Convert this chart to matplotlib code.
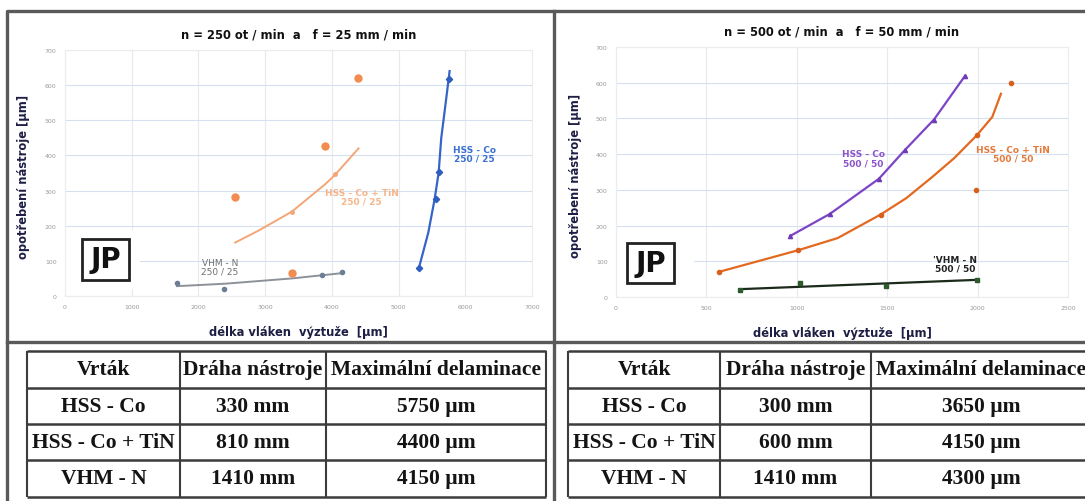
import matplotlib
matplotlib.use("Agg")
from matplotlib import pyplot as plt
from matplotlib.patches import Rectangle

# --- chart data ---
titles = ["n = 250 ot / min  a   f = 25 mm / min", "n = 500 ot / min  a   f = 50 mm / min"]
x_label = "délka vláken  výztuže  [µm]"
y_label = "opotřebení nástroje [µm]"

# left: 250 / 25
l_co_x = [5305, 5565, 5602, 5758]
l_co_y = [81, 275, 353, 617]
l_co_fit_x = [5305, 5445, 5540, 5600, 5640, 5700, 5765]
l_co_fit_y = [80, 180, 275, 350, 450, 540, 640]

l_tin_x = [2548, 3403, 3898, 4393]
l_tin_y = [282, 66, 427, 620]
l_tin_fit_x = [2550, 2900, 3400, 3900, 4054, 4400]
l_tin_fit_y = [152, 186, 240, 318, 346, 420]

l_vhm_x = [1683, 2376, 3846, 4158]
l_vhm_y = [38, 21, 59, 68]
l_vhm_fit_x = [1680, 2400, 3400, 4150]
l_vhm_fit_y = [28, 35, 50, 65]

# right: 500 / 50
r_co_x = [964, 1184, 1454, 1597, 1759, 1930]
r_co_y = [171, 233, 331, 411, 497, 619]

r_tin_x = [567, 1008, 1226, 1464, 1606, 1749, 1871, 1996, 2081, 2129]
r_tin_y = [70, 131, 165, 231, 277, 336, 389, 453, 504, 569]
r_tin_pts_x = [567, 1008, 1464, 1996, 2186, 1990]
r_tin_pts_y = [70, 131, 231, 453, 600, 301]

r_vhm_x = [688, 1017, 1492, 1996]
r_vhm_y = [21, 39, 31, 49]
r_vhm_fit_x = [688, 1996]
r_vhm_fit_y = [22, 48]

series_labels_l = ["HSS - Co\n250 / 25", "HSS - Co + TiN\n250 / 25", "VHM - N\n250 / 25"]
series_labels_r = ["HSS - Co\n500 / 50", "HSS - Co + TiN\n500 / 50", "'VHM - N\n500 / 50"]

# --- table data ---
table_header = ["Vrták", "Dráha nástroje", "Maximální delaminace"]
drills = ["HSS - Co", "HSS - Co + TiN", "VHM - N"]
left_path = ["330 mm", "810 mm", "1410 mm"]
left_delam = ["5750 µm", "4400 µm", "4150 µm"]
right_path = ["300 mm", "600 mm", "1410 mm"]
right_delam = ["3650 µm", "4150 µm", "4300 µm"]

label_col = "#1e1e44"


def setup_axes(ax, xmax, xstep, title, pad_w):
    ax.set_xlim(0, xmax)
    ax.set_ylim(0, 700)
    ax.set_xticks(range(0, xmax + 1, xstep))
    ax.set_yticks(range(0, 701, 100))
    ax.tick_params(length=0, labelsize=4.5, colors="#9a9a9a", pad=6)
    ax.grid(axis="y", color="#d6e0ef", lw=0.8)
    ax.grid(axis="x", color="#e6e9ee", lw=0.8)
    ax.set_axisbelow(True)
    for s in ax.spines.values():
        s.set_color("#ececec")
        s.set_linewidth(0.8)
    ax.set_xlabel(x_label, fontsize=8.3, fontweight="bold", color=label_col)
    ax.xaxis.set_label_coords(0.5, -0.118)
    ax.set_ylabel(y_label, fontsize=8.3, fontweight="bold", color=label_col)
    ax.yaxis.set_label_coords(-0.075, 0.49)
    ax.text(0.5, 1.065, title, transform=ax.transAxes, ha="center", va="center",
            fontsize=8.3, fontweight="bold", color="#111111")
    # white area behind JP box
    ax.add_patch(Rectangle((0.002, 0.03), pad_w, 0.24, transform=ax.transAxes,
                           facecolor="white", edgecolor="none", zorder=1.5))


def jp_box(ax, x0, y0, w, h):
    ax.add_patch(Rectangle((x0, y0), w, h, transform=ax.transAxes, facecolor="white",
                           edgecolor="#222222", lw=2, zorder=5))
    ax.text(x0 + w / 2, y0 + h / 2, "JP", transform=ax.transAxes, ha="center", va="center",
            fontsize=20, fontweight="bold", color="#111111", zorder=6)


def draw_table(bg, x0, x1, colx, path, delam):
    ys = [352, 389, 425, 461, 498]
    lc = "#3c3c3c"
    for y in ys:
        bg.plot([x0, x1], [y, y], color=lc, lw=1.8, solid_capstyle="butt")
    for x in [x0] + colx + [x1]:
        bg.plot([x, x], [ys[0], ys[-1]], color=lc, lw=1.5, solid_capstyle="butt")
    edges = [x0] + colx + [x1]
    rows = [table_header] + [[drills[i], path[i], delam[i]] for i in range(3)]
    for r, row in enumerate(rows):
        yc = (ys[r] + ys[r + 1]) / 2
        for c, txt in enumerate(row):
            xc = (edges[c] + edges[c + 1]) / 2
            bg.text(xc, yc, txt, ha="center", va="center", fontsize=15.5,
                    family="Liberation Serif", fontweight="bold", color="#141414")


fig = plt.figure(figsize=(10.85, 5.02), dpi=100)

bg = fig.add_axes([0, 0, 1, 1], zorder=0)
bg.set_xlim(0, 1085)
bg.set_ylim(502, 0)
bg.axis("off")

# frames
bc = "#5a5a5a"
bg.plot([7, 7, 1085], [502, 12, 12], color=bc, lw=2.4)
bg.plot([554, 554], [12, 502], color=bc, lw=2.4)
bg.plot([7, 1085], [343, 343], color=bc, lw=2.4)

draw_table(bg, 27, 546, [180, 326], left_path, left_delam)
draw_table(bg, 568, 1092, [720, 871], right_path, right_delam)

# left chart
ax1 = fig.add_axes([65 / 1085, 1 - 297 / 502, 467 / 1085, 246 / 502], zorder=1)
setup_axes(ax1, 7000, 1000, titles[0], 0.158)
ax1.plot(l_co_fit_x, l_co_fit_y, color="#3565c8", lw=1.6, zorder=3)
ax1.plot(l_co_x, l_co_y, "D", color="#2f5ec0", ms=3.2, zorder=4)
ax1.plot(l_tin_fit_x, l_tin_fit_y, color="#f4a676", lw=1.4, zorder=3)
ax1.plot(l_tin_x, l_tin_y, "o", color="#f28c50", ms=5, zorder=4)
ax1.plot([3403, 4054], [240, 346], "o", color="#f4a676", ms=2.5, zorder=4)
ax1.plot(l_vhm_fit_x, l_vhm_fit_y, color="#8d9299", lw=1.4, zorder=3)
ax1.plot(l_vhm_x, l_vhm_y, "o", color="#6a7e98", ms=3, zorder=4)
ax1.text(6139, 405, series_labels_l[0], ha="center", va="center", fontsize=6.5,
         fontweight="bold", color="#3a6fd0", linespacing=1.0, zorder=4)
ax1.text(4445, 283, series_labels_l[1], ha="center", va="center", fontsize=6.5,
         fontweight="bold", color="#f5b58a", linespacing=1.0, zorder=4)
ax1.text(2319, 83, series_labels_l[2], ha="center", va="center", fontsize=6.5,
         color="#707070", linespacing=1.0, zorder=4)
jp_box(ax1, 0.036, 0.065, 0.101, 0.167)

# right chart
ax2 = fig.add_axes([616 / 1085, 1 - 298 / 502, 452 / 1085, 250 / 502], zorder=1)
setup_axes(ax2, 2500, 500, titles[1], 0.17)
ax2.plot(r_co_x, r_co_y, color="#7b45c6", lw=1.6, zorder=3)
ax2.plot(r_co_x, r_co_y, "^", color="#6f3bb8", ms=3, zorder=4)
ax2.plot(r_tin_x, r_tin_y, color="#e2691f", lw=1.6, zorder=3)
ax2.plot(r_tin_pts_x, r_tin_pts_y, "o", color="#d8601c", ms=3, zorder=4)
ax2.plot(r_vhm_fit_x, r_vhm_fit_y, color="#1c2a1c", lw=1.6, zorder=3)
ax2.plot(r_vhm_x, r_vhm_y, "s", color="#2d5a2d", ms=3, zorder=4)
ax2.text(1369, 389, series_labels_r[0], ha="center", va="center", fontsize=6.5,
         fontweight="bold", color="#8a55cc", linespacing=1.0, zorder=4)
ax2.text(2196, 401, series_labels_r[1], ha="center", va="center", fontsize=6.5,
         fontweight="bold", color="#e47a3a", linespacing=1.0, zorder=4)
ax2.text(1876, 93, series_labels_r[2], ha="center", va="center", fontsize=6.5,
         fontweight="bold", color="#222222", linespacing=1.0, zorder=4)
jp_box(ax2, 0.024, 0.056, 0.104, 0.16)

fig.savefig("out.png", dpi=100)
